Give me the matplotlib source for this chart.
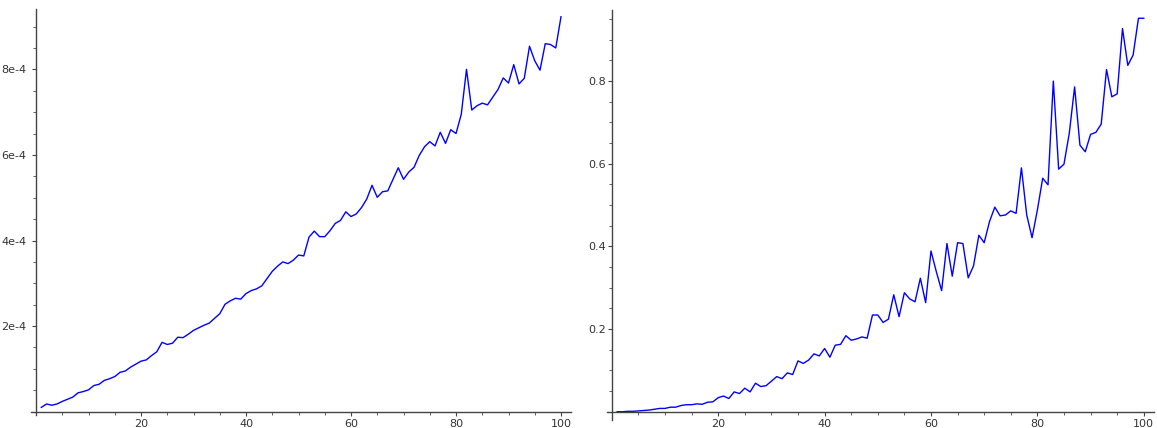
import matplotlib
matplotlib.use("Agg")
import matplotlib.pyplot as plt
from matplotlib.ticker import MultipleLocator, FixedLocator

# ---------------- DATA ----------------

x_vals = list(range(1, 101))

# left panel, values in units of 1e-4
left_vals_e4 = [
    0.10, 0.18, 0.15, 0.18, 0.24, 0.29, 0.34, 0.44, 0.47, 0.51,
    0.61, 0.64, 0.73, 0.77, 0.82, 0.92, 0.95, 1.04, 1.11, 1.18,
    1.21, 1.31, 1.40, 1.62, 1.57, 1.60, 1.74, 1.73, 1.81, 1.90,
    1.96, 2.02, 2.07, 2.18, 2.29, 2.51, 2.59, 2.65, 2.63, 2.76,
    2.83, 2.87, 2.94, 3.11, 3.28, 3.40, 3.50, 3.46, 3.54, 3.66,
    3.64, 4.08, 4.22, 4.09, 4.09, 4.23, 4.40, 4.47, 4.67, 4.56,
    4.62, 4.77, 4.97, 5.29, 5.01, 5.14, 5.16, 5.43, 5.70, 5.43,
    5.60, 5.71, 5.99, 6.19, 6.31, 6.21, 6.53, 6.27, 6.59, 6.50,
    6.95, 8.00, 7.05, 7.15, 7.21, 7.17, 7.35, 7.53, 7.80, 7.68,
    8.11, 7.66, 7.79, 8.54, 8.20, 7.98, 8.60, 8.58, 8.50, 9.23,
]

right_vals = [
    0.000, 0.000, 0.001, 0.001, 0.002, 0.003, 0.004, 0.006, 0.008, 0.008,
    0.011, 0.011, 0.015, 0.017, 0.017, 0.019, 0.018, 0.023, 0.024, 0.034,
    0.038, 0.032, 0.048, 0.044, 0.057, 0.048, 0.069, 0.061, 0.063, 0.074,
    0.085, 0.080, 0.094, 0.090, 0.123, 0.117, 0.125, 0.140, 0.135, 0.153,
    0.132, 0.161, 0.163, 0.184, 0.173, 0.176, 0.181, 0.178, 0.234, 0.234,
    0.216, 0.224, 0.283, 0.230, 0.288, 0.273, 0.266, 0.323, 0.264, 0.389,
    0.339, 0.293, 0.407, 0.328, 0.409, 0.407, 0.324, 0.353, 0.427, 0.409,
    0.460, 0.495, 0.474, 0.476, 0.486, 0.480, 0.590, 0.476, 0.421, 0.488,
    0.565, 0.549, 0.800, 0.587, 0.599, 0.674, 0.786, 0.645, 0.629, 0.671,
    0.676, 0.696, 0.828, 0.762, 0.769, 0.927, 0.838, 0.863, 0.952, 0.952,
]

x_ticks = [20, 40, 60, 80, 100]
left_yticks = [2e-4, 4e-4, 6e-4, 8e-4]
left_yticklabels = ["2e-4", "4e-4", "6e-4", "8e-4"]
right_yticks = [0.2, 0.4, 0.6, 0.8]
right_yticklabels = ["0.2", "0.4", "0.6", "0.8"]

left_vals = [v * 1e-4 for v in left_vals_e4]


# ---------------- SAGE-LIKE AXES ----------------

def padded(lo, hi, pad=0.02):
    span = hi - lo
    return lo - pad * span, hi + pad * span


def sage_axes(ax, xs, ys, yticks, yticklabels, minor_y, ypad):
    ax.plot(xs, ys, color="blue", linewidth=1)
    ax.set_xlim(*padded(min(xs), max(xs)))
    ax.set_ylim(*padded(min(ys), max(ys)))

    for side in ("top", "right"):
        ax.spines[side].set_visible(False)
    ax.spines["left"].set_position(("data", 0))
    ax.spines["bottom"].set_position(("data", 0))
    for side in ("left", "bottom"):
        ax.spines[side].set_color("#444444")
        ax.spines[side].set_linewidth(1.0)

    ax.xaxis.set_major_locator(FixedLocator(x_ticks))
    ax.set_xticklabels([str(t) for t in x_ticks])
    ax.xaxis.set_minor_locator(MultipleLocator(5))
    ax.yaxis.set_major_locator(FixedLocator(yticks))
    ax.set_yticklabels(yticklabels)
    ax.yaxis.set_minor_locator(MultipleLocator(minor_y))

    ax.tick_params(which="major", length=3, width=0.8, color="#444444",
                   labelsize=8, labelcolor="#333333")
    ax.tick_params(which="minor", length=2, width=0.6, color="#444444")
    ax.tick_params(axis="x", which="major", pad=2)
    ax.tick_params(axis="y", which="major", pad=ypad)
    ax.patch.set_alpha(0)


fig = plt.figure(figsize=(11.57, 4.28), dpi=100)
W, H = 1157, 428

# left panel: 30.9px .. 571.4px wide, 8.9px .. 415.2px tall
ax1 = fig.add_axes([30.9 / W, (H - 415.2) / H, 540.5 / W, 406.3 / H])
sage_axes(ax1, x_vals, left_vals, left_yticks, left_yticklabels, 0.5e-4, 4)

# right panel
ax2 = fig.add_axes([606.6 / W, (H - 419.6) / H, 547.7 / W, 409.2 / H])
sage_axes(ax2, x_vals, right_vals, right_yticks, right_yticklabels, 0.05, 1.5)

fig.savefig("out.png", dpi=100)
plt.close(fig)
